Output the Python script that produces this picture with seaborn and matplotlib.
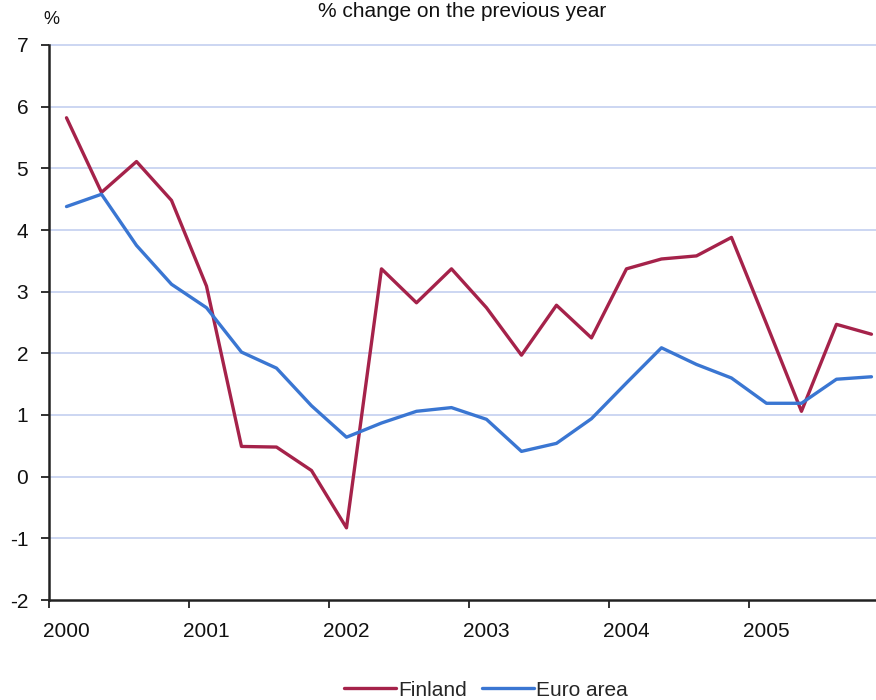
import numpy as np
import pandas as pd
import matplotlib
matplotlib.use("Agg")
import matplotlib.pyplot as plt
import seaborn as sns
from matplotlib.lines import Line2D

# ---- data ----
years = ["2000", "2001", "2002", "2003", "2004", "2005"]
finland = [5.82, 4.61, 5.11, 4.48, 3.09, 0.49, 0.48, 0.10,
           -0.83, 3.37, 2.82, 3.37, 2.74, 1.97, 2.78, 2.25,
           3.37, 3.53, 3.58, 3.88, 2.48, 1.06, 2.47, 2.31]
euro_area = [4.38, 4.58, 3.75, 3.12, 2.74, 2.02, 1.76, 1.15,
             0.64, 0.87, 1.06, 1.12, 0.93, 0.41, 0.54, 0.94,
             1.52, 2.09, 1.82, 1.60, 1.19, 1.19, 1.58, 1.62]
series_names = ["Finland", "Euro area"]
colors = ["#a5224a", "#3a76d2"]
y_ticks = [-2, -1, 0, 1, 2, 3, 4, 5, 6, 7]

n = len(finland)
df = pd.DataFrame({
    "q": list(range(n)) * 2,
    "value": finland + euro_area,
    "series": [series_names[0]] * n + [series_names[1]] * n,
})

sns.set_theme(style="white")
plt.rcParams["font.family"] = ["Liberation Sans", "DejaVu Sans"]

fig = plt.figure(figsize=(8.76, 7.0), dpi=100)
ax = fig.add_axes([49 / 876, 1 - 600 / 700, 1 - 49 / 876, 555 / 700])

sns.lineplot(data=df, x="q", y="value", hue="series", palette=colors,
             linewidth=2.4, ax=ax, legend=False)

ax.set_xlim(-0.5, 23.13)
ax.set_ylim(-2, 7)
ax.set_yticks(y_ticks)
ax.set_yticklabels([str(v) for v in y_ticks])
for v in y_ticks:
    if v > -2:
        ax.axhline(v, color="#c3cff0", lw=1.2, zorder=0, clip_on=False)

# category boundaries as major ticks, year labels as minor ticks
ax.set_xticks([-0.5 + 4 * i for i in range(6)])
ax.set_xticklabels([])
ax.set_xticks([4 * i for i in range(len(years))], minor=True)
ax.set_xticklabels(years, minor=True)
ax.tick_params(axis="x", which="major", direction="out", length=6, width=1.3,
               color="#222222", bottom=True)
ax.tick_params(axis="x", which="minor", length=0, pad=16, labelsize=15,
               labelcolor="#111111")
ax.tick_params(axis="y", direction="out", length=6, width=1.3, color="#222222",
               left=True, pad=9, labelsize=15, labelcolor="#111111")
ax.set_xlabel("")
ax.set_ylabel("")

for s in ["top", "right"]:
    ax.spines[s].set_visible(False)
ax.spines["left"].set_color("#222222")
ax.spines["left"].set_linewidth(1.8)
ax.spines["bottom"].set_color("#222222")
ax.spines["bottom"].set_linewidth(1.8)

fig.text(462 / 876, 1 - 2 / 700, "% change on the previous year", ha="center",
         va="top", fontsize=15, color="#111111")
fig.text(51 / 876, 1 - 20 / 700, "%", ha="center", va="center", fontsize=13,
         color="#111111")

handles = [Line2D([], [], color=c, lw=2.4) for c in colors]
fig.legend(handles, series_names, loc="center", bbox_to_anchor=(486 / 876, 1 - 690 / 700),
           ncol=2, frameon=False, fontsize=15, handlelength=2.5, handletextpad=0.1,
           columnspacing=0.7, borderpad=0)

fig.savefig("out.png", dpi=100)
